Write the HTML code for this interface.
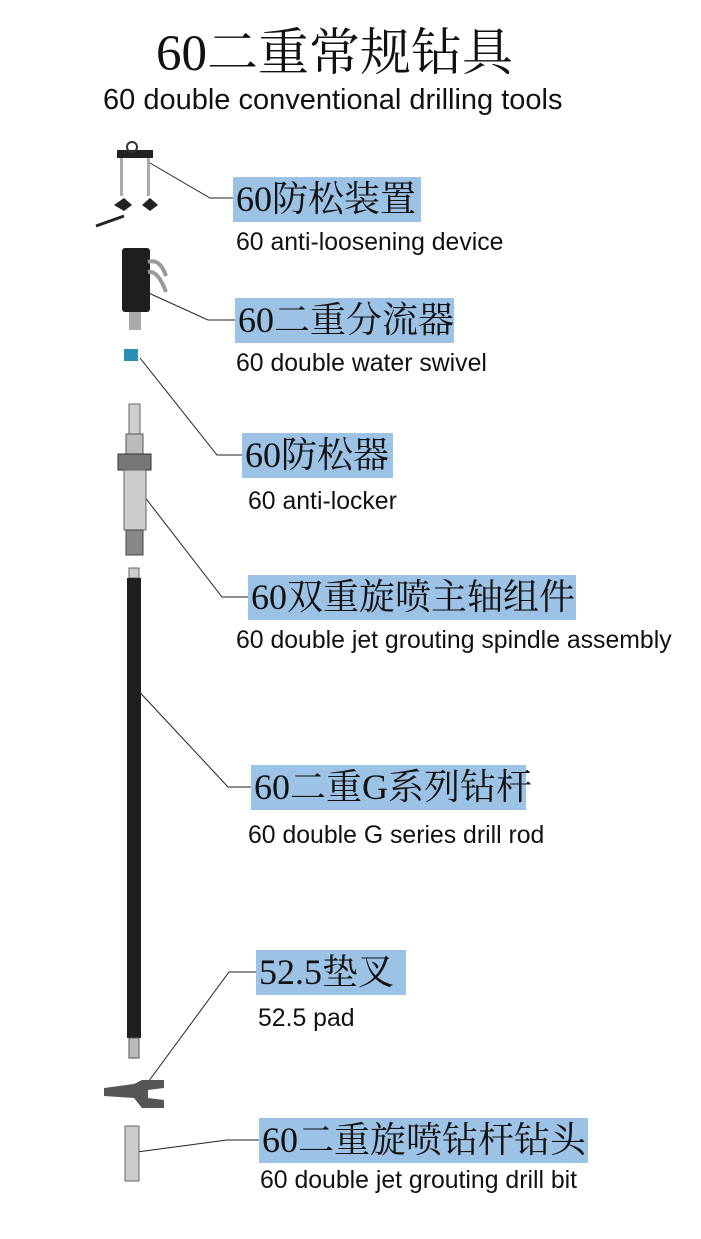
<!DOCTYPE html>
<html><head><meta charset="utf-8"><style>
body{margin:0;width:701px;height:1239px;background:#fff;position:relative;overflow:hidden}
.t{position:absolute;white-space:nowrap}
.cn{font-family:"Liberation Serif","Noto Serif CJK SC",serif;color:#111}
.box{position:absolute;background:#9cc3e6;height:45px;font-size:36px;line-height:45px;padding-left:3px;box-sizing:border-box;white-space:nowrap;overflow:visible}
.en{font-family:"Liberation Sans",sans-serif;font-size:24.8px;color:#111}
</style></head><body>
<div class="t cn" style="left:-16px;width:701px;text-align:center;top:26px;font-size:51px;line-height:56px">60二重常规钻具</div>
<div class="t en" style="left:103px;top:84px;font-size:29px">60 double conventional drilling tools</div>

<svg width="701" height="1239" style="position:absolute;left:0;top:0">
<g stroke="#222" stroke-width="1" fill="none">
<polyline points="150,163 210,198 233,198"/>
<polyline points="142,290 208,320 235,320"/>
<polyline points="140,358 217,455 242,455"/>
<polyline points="137,487 222,597 248,597"/>
<polyline points="133,685 228,787 251,787"/>
<polyline points="140,1093 229,972 256,972"/>
<polyline points="137,1152 227,1140 259,1140"/>
</g>
<rect x="117" y="150" width="36" height="8" fill="#222"/>
<circle cx="132" cy="147" r="5" fill="none" stroke="#333" stroke-width="2"/>
<rect x="120" y="158" width="3" height="38" fill="#aaa"/>
<rect x="147" y="158" width="3" height="38" fill="#aaa"/>
<path d="M114 205 l10-7 l8 7 l-8 6z M142 205 l8-7 l8 7 l-8 6z" fill="#222"/>
<line x1="96" y1="226" x2="124" y2="216" stroke="#222" stroke-width="3"/>
<rect x="122" y="248" width="28" height="64" rx="3" fill="#1e1e1e"/>
<path d="M148 262 q12-4 18 14 M148 272 q10 -2 18 20" stroke="#999" stroke-width="4" fill="none"/>
<rect x="129" y="312" width="12" height="18" fill="#aaa"/>
<rect x="124" y="349" width="14" height="12" fill="#2a8fb5"/>
<rect x="129" y="404" width="11" height="30" fill="#cfcfcf" stroke="#666"/>
<rect x="126" y="434" width="17" height="20" fill="#bbb" stroke="#555"/>
<rect x="118" y="454" width="33" height="16" fill="#777" stroke="#333"/>
<rect x="124" y="470" width="22" height="60" fill="#ccc" stroke="#666"/>
<rect x="126" y="530" width="17" height="25" fill="#888" stroke="#444"/>
<rect x="129" y="568" width="10" height="10" fill="#ccc" stroke="#666"/>
<rect x="127" y="578" width="14" height="460" fill="#1e1e1e"/>
<rect x="129" y="1038" width="10" height="20" fill="#bbb" stroke="#555"/>
<path d="M104 1088 l30-4 l8-4 l22 0 l0 8 l-16 2 l0 8 l16 2 l0 8 l-22 0 l-8-10 l-30 -2z" fill="#555"/>
<rect x="125" y="1126" width="14" height="55" fill="#ccc" stroke="#666"/>
</svg>

<div class="box cn" style="left:233px;top:177px;width:188px">60防松装置</div>
<div class="t en" style="left:236px;top:229px">60 anti-loosening device</div>
<div class="box cn" style="left:235px;top:298px;width:219px">60二重分流器</div>
<div class="t en" style="left:236px;top:350px">60 double water swivel</div>
<div class="box cn" style="left:242px;top:433px;width:151px">60防松器</div>
<div class="t en" style="left:248px;top:488px">60 anti-locker</div>
<div class="box cn" style="left:248px;top:575px;width:328px">60双重旋喷主轴组件</div>
<div class="t en" style="left:236px;top:627px">60 double jet grouting spindle assembly</div>
<div class="box cn" style="left:251px;top:765px;width:275px">60二重G系列钻杆</div>
<div class="t en" style="left:248px;top:822px">60 double G series drill rod</div>
<div class="box cn" style="left:256px;top:950px;width:150px">52.5垫叉</div>
<div class="t en" style="left:258px;top:1005px">52.5 pad</div>
<div class="box cn" style="left:259px;top:1118px;width:329px">60二重旋喷钻杆钻头</div>
<div class="t en" style="left:260px;top:1167px">60 double jet grouting drill bit</div>
</body></html>
